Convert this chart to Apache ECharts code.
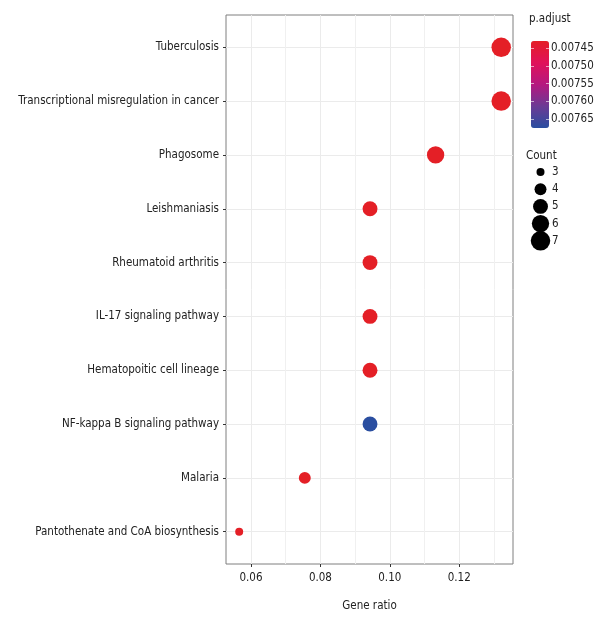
<!DOCTYPE html>
<html>
<head>
<meta charset="utf-8">
<script src="https://cdn.jsdelivr.net/npm/echarts@6/dist/echarts.min.js"></script>
<style>html,body{margin:0;padding:0;background:#fff}#c{width:615px;height:630px}</style>
</head>
<body>
<div id="c"></div>
<script>
const categories = [
  'Tuberculosis',
  'Transcriptional misregulation in cancer',
  'Phagosome',
  'Leishmaniasis',
  'Rheumatoid arthritis',
  'IL-17 signaling pathway',
  'Hematopoitic cell lineage',
  'NF-kappa B signaling pathway',
  'Malaria',
  'Pantothenate and CoA biosynthesis'
];
const geneRatio = [0.1321, 0.1321, 0.1132, 0.0943, 0.0943, 0.0943, 0.0943, 0.0943, 0.0755, 0.0566];
const counts    = [7, 7, 6, 5, 5, 5, 5, 5, 4, 3];
const pAdjust   = [0.007430, 0.007430, 0.007430, 0.007430, 0.007430, 0.007430, 0.007430, 0.007675, 0.007430, 0.007430];
const xTicks      = [0.06, 0.08, 0.10, 0.12];
const xMinorTicks = [0.07, 0.09, 0.11, 0.13];
const pTicks      = [0.00745, 0.00750, 0.00755, 0.00760, 0.00765];
const countLegend = [3, 4, 5, 6, 7];

// pick a condensed font that is available
const cv = document.createElement('canvas').getContext('2d');
function w(f) { cv.font = '13px ' + f; return cv.measureText(categories[1]).width; }
const narrowOK = w("'Liberation Sans Narrow', monospace") < 0.9 * w("'Liberation Sans', monospace");
const FONT = narrowOK ? "'Liberation Sans Narrow', sans-serif" : "'DejaVu Sans Condensed', sans-serif";
const FS = narrowOK ? 13.5 : 11.5;

const pMin = 0.007430, pMax = 0.007675;
function sizeFor(n) { return Math.sqrt(64 + 79 * (n - 3)); }

const mainData = categories.map((c, i) => [geneRatio[i], i, pAdjust[i], counts[i]]);
const legendData = countLegend.map((n, i) => [0.5, i, n]);
const txt = {fontFamily: FONT, fontSize: FS, color: '#222'};

const chart = echarts.init(document.getElementById('c'), null, {renderer: 'canvas'});
chart.setOption({
  animation: false,
  backgroundColor: '#fff',
  textStyle: {fontFamily: FONT},
  title: [
    {text: 'p.adjust', left: 529, top: 13, padding: 0,
     textStyle: Object.assign({fontWeight: 'normal'}, txt)},
    {text: 'Count', left: 526, top: 150, padding: 0,
     textStyle: Object.assign({fontWeight: 'normal'}, txt)}
  ],
  grid: [
    {left: 226, top: 15, width: 287, height: 549, show: true, borderColor: '#7f7f7f', borderWidth: 1,
     backgroundColor: '#fff', containLabel: false, outerBoundsMode: 'none'},
    {left: 531, top: 41, width: 18, height: 87, containLabel: false, outerBoundsMode: 'none'},
    {left: 531, top: 163.4, width: 19, height: 86, containLabel: false, outerBoundsMode: 'none'}
  ],
  xAxis: [
    {gridIndex: 0, type: 'value', min: 0.0528, max: 0.1355,
     name: 'Gene ratio', nameLocation: 'middle', nameGap: 36,
     nameTextStyle: txt,
     axisLine: {show: false, onZero: false},
     axisTick: {show: true, length: 3, lineStyle: {color: '#333'}, customValues: xTicks},
     axisLabel: Object.assign({customValues: xTicks, formatter: v => v.toFixed(2), margin: 8}, txt),
     splitLine: {show: true, lineStyle: {color: '#ebebeb', width: 1}}},
    {gridIndex: 0, type: 'value', min: 0.0528, max: 0.1355, position: 'bottom',
     axisLine: {show: false, onZero: false},
     axisTick: {show: false, customValues: xMinorTicks},
     axisLabel: {show: false, customValues: xMinorTicks},
     splitLine: {show: true, lineStyle: {color: '#f0f0f0', width: 1}}},
    {gridIndex: 1, type: 'value', min: 0, max: 1, show: false},
    {gridIndex: 2, type: 'value', min: 0, max: 1, show: false}
  ],
  yAxis: [
    {gridIndex: 0, type: 'value', min: -0.6, max: 9.6, inverse: true,
     axisLine: {show: false, onZero: false},
     axisTick: {show: true, length: 3, lineStyle: {color: '#333'}, customValues: categories.map((c, i) => i)},
     axisLabel: Object.assign({customValues: categories.map((c, i) => i), formatter: v => categories[Math.round(v)], margin: 7}, txt),
     splitLine: {show: true, lineStyle: {color: '#ebebeb', width: 1}}},
    {gridIndex: 1, type: 'value', min: pMin, max: pMax, inverse: true, position: 'right', z: 10,
     axisLine: {show: false, onZero: false},
     axisTick: {show: true, inside: true, length: 3, lineStyle: {color: 'rgba(255,255,255,0.6)'}, customValues: pTicks},
     axisLabel: Object.assign({customValues: pTicks, formatter: v => v.toFixed(5), margin: 2}, txt),
     splitLine: {show: false}},
    {gridIndex: 1, type: 'value', min: pMin, max: pMax, inverse: true, position: 'left', z: 10,
     axisLine: {show: false, onZero: false},
     axisTick: {show: true, inside: true, length: 3, lineStyle: {color: 'rgba(255,255,255,0.6)'}, customValues: pTicks},
     axisLabel: {show: false},
     splitLine: {show: false}},
    {gridIndex: 2, type: 'category', data: countLegend.map(String), inverse: true, position: 'right',
     axisLine: {show: false}, axisTick: {show: false},
     axisLabel: Object.assign({margin: 2}, txt),
     splitLine: {show: false}}
  ],
  visualMap: [{
    type: 'continuous', seriesIndex: 0, dimension: 2,
    min: pMin, max: pMax, inverse: true, calculable: false,
    left: 531, top: 41, itemWidth: 18, itemHeight: 87, padding: 0,
    text: null, showLabel: false,
    inRange: {color: ['#E41F26', '#E0125A', '#B5187F', '#6B3A95', '#2A4EA0']},
    z: 2
  }],
  series: [
    {type: 'scatter', xAxisIndex: 0, yAxisIndex: 0, data: mainData,
     encode: {x: 0, y: 1},
     symbolSize: d => sizeFor(d[3]),
     itemStyle: {opacity: 1}, z: 5},
    {type: 'scatter', xAxisIndex: 3, yAxisIndex: 3, data: legendData,
     encode: {x: 0, y: 1},
     symbolSize: d => sizeFor(d[2]),
     itemStyle: {color: '#000', opacity: 1}, silent: true}
  ]
});
</script>
</body>
</html>
